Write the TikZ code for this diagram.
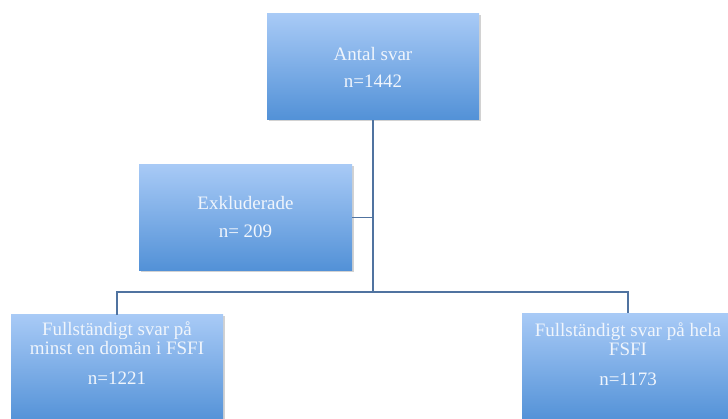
\documentclass[tikz,border=0pt]{standalone}
\usepackage{fontspec}
\setmainfont{Liberation Serif}
\usetikzlibrary{shadows,calc}
\definecolor{boxtop}{RGB}{168,202,246}
\definecolor{boxbot}{RGB}{82,145,215}
\definecolor{linec}{RGB}{80,115,160}
\definecolor{txtc}{RGB}{240,245,252}
\tikzset{
  fbox/.style={rectangle, inner sep=0pt, top color=boxtop, bottom color=boxbot,
    draw=none, drop shadow={opacity=0.35, shadow xshift=1.5pt, shadow yshift=-1.5pt}},
  ftext/.style={text=txtc, align=center, inner sep=0pt, font=\fontsize{19}{19}\selectfont},
  conn/.style={draw=linec, line width=1.6pt}
}
\begin{document}
\begin{tikzpicture}[x=1pt,y=-1pt]
\useasboundingbox (0,0) rectangle (728,419);
\clip (0,0) rectangle (728,419);
\fill[white] (0,0) rectangle (728,419);
% boxes
\node[fbox, minimum width=212pt, minimum height=106pt] (top) at (373,67) {};
\node[ftext] (toptxt) at (top.center) {Antal svar\\[8pt]n=1442};
\node[fbox, minimum width=213pt, minimum height=106pt] (excl) at (245.5,217.5) {};
\node[ftext] (excltxt) at (excl.center) {Exkluderade\\[9pt]n= 209};
\node[fbox, minimum width=212pt, minimum height=108pt] (bl) at (117,369) {};
\node[ftext, anchor=north] (bltxt) at ($(bl.north)+(0,7)$) {Fullständigt svar på\\minst en domän i FSFI\\[11pt]n=1221};
\node[fbox, minimum width=212pt, minimum height=108pt] (br) at (628,367.5) {};
\node[ftext, anchor=north] (brtxt) at ($(br.north)+(0,9)$) {Fullständigt svar på hela\\FSFI\\[11pt]n=1173};
% connectors
\coordinate (junc) at (373,292);
\draw[conn] (top.south) -- (junc);
\draw[conn] (excl.east) -- (excl.east -| junc);
\draw[conn] (bl.north) -- (bl.north |- junc) -- (br.north |- junc) -- (br.north);
\end{tikzpicture}
\end{document}
